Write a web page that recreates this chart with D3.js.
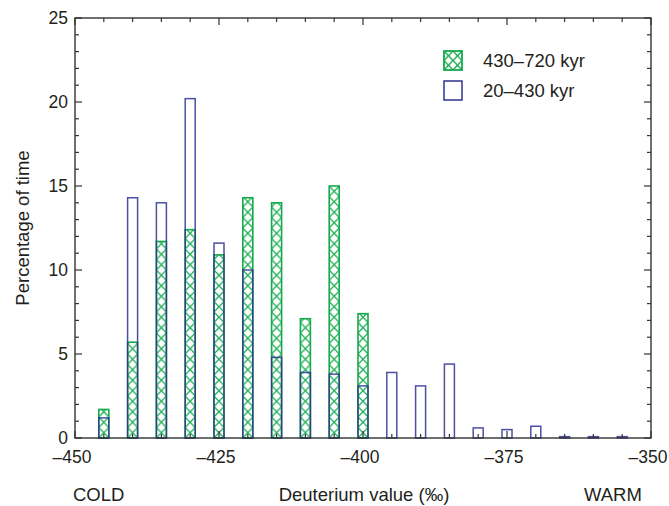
<!DOCTYPE html>
<html>
<head>
<meta charset="utf-8">
<script src="https://cdn.jsdelivr.net/npm/d3@7"></script>
<style>
  body { margin: 0; background: #fff; }
  text { font-family: "Liberation Sans", Arial, sans-serif; fill: #231f20; }
</style>
</head>
<body>
<svg id="chart" width="669" height="506"></svg>
<script>
// Bin centres (deuterium value, ‰)
const bins = [-445, -440, -435, -430, -425, -420, -415, -410, -405, -400,
              -395, -390, -385, -380, -375, -370, -365, -360, -355];
// 430–720 kyr (green, hatched)
const old = [1.7, 5.7, 11.7, 12.4, 10.9, 14.3, 14.0, 7.1, 15.0, 7.4,
             0, 0, 0, 0, 0, 0, 0, 0, 0];
// 20–430 kyr (blue, open)
const young = [1.2, 14.3, 14.0, 20.2, 11.6, 10.0, 4.8, 3.9, 3.8, 3.1,
               3.9, 3.1, 4.4, 0.6, 0.5, 0.7, 0.08, 0.08, 0.08];
const xTicks = [-450, -425, -400, -375, -350];
const xTickLabels = ["–450", "–425", "–400", "–375", "–350"];
const yTicks = [0, 5, 10, 15, 20, 25];
const legendLabels = ["430–720 kyr", "20–430 kyr"];

const green = "#14a94c";
const blue = "#2e3192";
const axisCol = "#333";

const svg = d3.select("#chart");
const L = 75, R = 651, T = 18, B = 438;
const x = d3.scaleLinear().domain([-450, -350]).range([L, R]);
const y = d3.scaleLinear().domain([0, 25]).range([B, T]);
const bw = 10;

// hatch pattern
const defs = svg.append("defs");
const pat = defs.append("pattern")
  .attr("id", "hatch")
  .attr("patternUnits", "userSpaceOnUse")
  .attr("x", x(bins[0]) - bw / 2)
  .attr("y", B)
  .attr("width", x(bins[1]) - x(bins[0]))
  .attr("height", 10.5);
pat.append("path")
  .attr("d", `M0,0 L${bw},10.5 M${bw},0 L0,10.5`)
  .attr("stroke", green).attr("stroke-width", 1.2).attr("fill", "none");

// green bars
svg.append("g").selectAll("rect")
  .data(bins.map((b, i) => ({ b, v: old[i] })).filter(d => d.v > 0))
  .join("rect")
  .attr("x", d => x(d.b) - bw / 2)
  .attr("y", d => y(d.v))
  .attr("width", bw)
  .attr("height", d => B - y(d.v))
  .attr("fill", "url(#hatch)")
  .attr("stroke", green)
  .attr("stroke-width", 1.6);

// blue bars
svg.append("g").selectAll("rect")
  .data(bins.map((b, i) => ({ b, v: young[i] })))
  .join("rect")
  .attr("x", d => x(d.b) - bw / 2)
  .attr("y", d => y(d.v))
  .attr("width", bw)
  .attr("height", d => B - y(d.v))
  .attr("fill", "none")
  .attr("stroke", blue)
  .attr("stroke-opacity", 0.85)
  .attr("stroke-width", 1.5);

// frame
svg.append("rect").attr("x", L).attr("y", T).attr("width", R - L).attr("height", B - T)
  .attr("fill", "none").attr("stroke", axisCol).attr("stroke-width", 1.4);

const tickG = svg.append("g").attr("stroke", axisCol).attr("stroke-width", 1.2);
// x ticks (every 5, major every 25) on bottom and top, inward
d3.range(-450, -349, 5).forEach(v => {
  const major = v % 25 === 0;
  const len = major ? 7 : 4;
  tickG.append("line").attr("x1", x(v)).attr("x2", x(v)).attr("y1", B).attr("y2", B - len);
  tickG.append("line").attr("x1", x(v)).attr("x2", x(v)).attr("y1", T).attr("y2", T + len);
});
// y ticks (every 1, major every 5) on left and right, inward
d3.range(0, 26, 1).forEach(v => {
  const major = v % 5 === 0;
  const len = major ? 7 : 4;
  tickG.append("line").attr("x1", L).attr("x2", L + len).attr("y1", y(v)).attr("y2", y(v));
  tickG.append("line").attr("x1", R).attr("x2", R - len).attr("y1", y(v)).attr("y2", y(v));
});

// tick labels
svg.append("g").selectAll("text").data(xTicks).join("text")
  .attr("x", d => x(d) - 3).attr("y", B + 25)
  .attr("text-anchor", "middle").attr("font-size", 17.5)
  .text((d, i) => xTickLabels[i]);
svg.append("g").selectAll("text").data(yTicks).join("text")
  .attr("x", L - 7).attr("y", d => y(d) + 6)
  .attr("text-anchor", "end").attr("font-size", 17.5)
  .text(d => d);

// axis titles
svg.append("text").attr("transform", `translate(29,${(T + B) / 2}) rotate(-90)`)
  .attr("text-anchor", "middle").attr("font-size", 18.5).text("Percentage of time");
svg.append("text").attr("x", 364).attr("y", 501)
  .attr("text-anchor", "middle").attr("font-size", 18.5).text("Deuterium value (‰)");
svg.append("text").attr("x", 73).attr("y", 501).attr("font-size", 18.5).text("COLD");
svg.append("text").attr("x", 584).attr("y", 501).attr("font-size", 18.5).text("WARM");

// legend
const lg = svg.append("g");
const legPat = defs.append("pattern")
  .attr("id", "hatchLeg")
  .attr("patternUnits", "userSpaceOnUse")
  .attr("x", 444).attr("y", 51)
  .attr("width", 9).attr("height", 9.5);
legPat.append("path")
  .attr("d", "M0,0 L9,9.5 M9,0 L0,9.5")
  .attr("stroke", green).attr("stroke-width", 1.4).attr("fill", "none");
lg.append("rect").attr("x", 444).attr("y", 51).attr("width", 18).attr("height", 19)
  .attr("fill", "url(#hatchLeg)").attr("stroke", green).attr("stroke-width", 1.8);
lg.append("rect").attr("x", 444).attr("y", 81).attr("width", 18).attr("height", 19)
  .attr("fill", "none").attr("stroke", blue).attr("stroke-width", 1.5);
lg.append("text").attr("x", 483).attr("y", 67).attr("font-size", 18.5).text(legendLabels[0]);
lg.append("text").attr("x", 483).attr("y", 97).attr("font-size", 18.5).text(legendLabels[1]);
</script>
</body>
</html>
